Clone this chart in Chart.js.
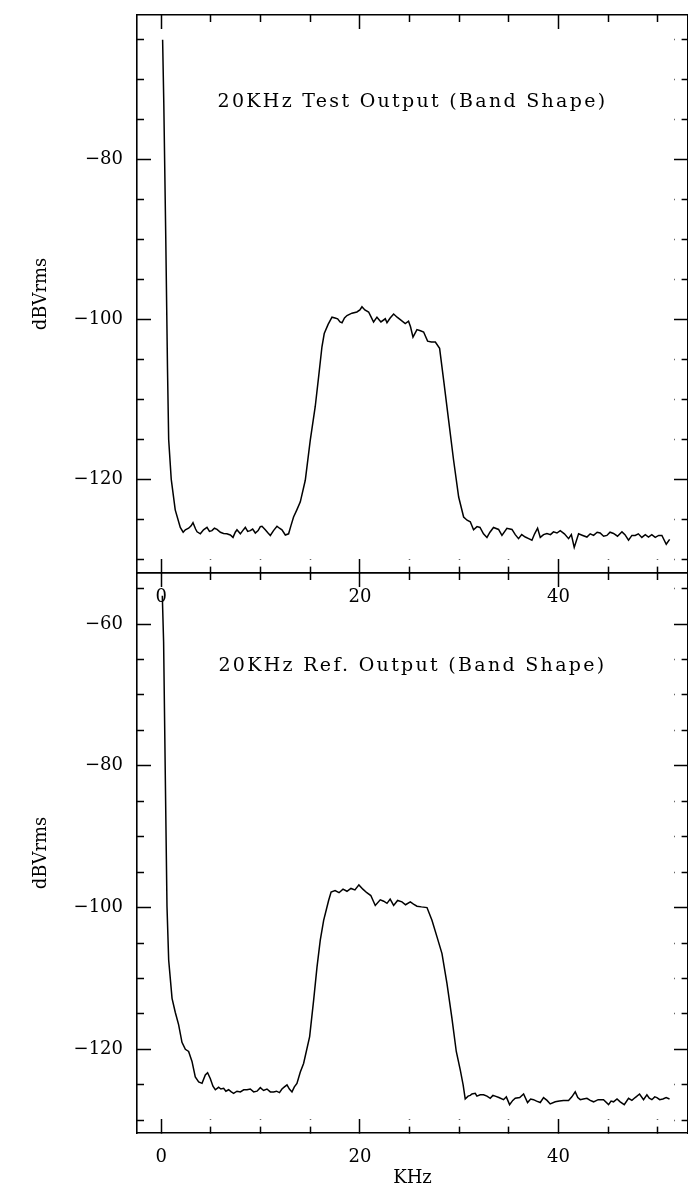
<!DOCTYPE html>
<html lang="en">
<head>
    <meta charset="UTF-8">
    <title>20KHz Band Shape</title>
    <script src="https://cdn.jsdelivr.net/npm/chart.js@4.4.0/dist/chart.umd.min.js"></script>
    <style>
        body { margin: 0; background: #fff; overflow: hidden; width: 688px; height: 1189px; position: relative; }
        canvas { position: absolute; left: 0; }
        #testChart { top: 0; }
        #refChart { top: 560px; }
        .title {
            position: absolute; left: 0; width: 825px; text-align: center;
            font-family: "DejaVu Serif", serif; font-size: 19px; line-height: 22px;
            letter-spacing: 2.3px; white-space: nowrap; color: #000;
        }
    </style>
</head>
<body>
    <canvas id="testChart" width="700" height="620"></canvas>
    <canvas id="refChart" width="700" height="629"></canvas>
    <div class="title" style="top:89px">20KHz Test Output (Band Shape)</div>
    <div class="title" style="top:653px">20KHz Ref. Output (Band Shape)</div>

    <script>
        // values (kHz, dBVrms)
        const testFreq = [0.13, 0.25, 0.45, 0.62, 0.74, 1.0, 1.4, 1.91, 2.2, 2.42, 2.75, 3.0, 3.19, 3.45, 3.6, 3.93, 4.25, 4.6, 4.85, 5.1, 5.35, 5.61, 5.95, 6.27, 6.6, 6.95, 7.22, 7.45, 7.62, 7.96, 8.2, 8.46, 8.7, 8.96, 9.2, 9.47, 9.75, 9.97, 10.14, 10.47, 10.75, 10.98, 11.3, 11.65, 11.9, 12.15, 12.49, 12.82, 13.05, 13.32, 13.65, 14.0, 14.5, 15.0, 15.5, 15.84, 16.18, 16.41, 16.8, 17.19, 17.5, 17.76, 18.0, 18.2, 18.45, 18.7, 19.2, 19.7, 20.0, 20.21, 20.5, 20.88, 21.1, 21.38, 21.72, 22.12, 22.56, 22.73, 23.05, 23.4, 23.75, 24.07, 24.57, 24.9, 25.1, 25.35, 25.75, 26.1, 26.42, 26.82, 27.2, 27.6, 28.03, 28.44, 28.94, 29.44, 29.95, 30.45, 30.8, 31.12, 31.45, 31.8, 32.1, 32.45, 32.8, 33.1, 33.46, 33.97, 34.31, 34.81, 35.32, 35.65, 35.98, 36.3, 36.66, 37.0, 37.33, 37.6, 37.9, 38.17, 38.5, 38.84, 39.2, 39.5, 39.85, 40.18, 40.6, 41.02, 41.3, 41.59, 42.03, 42.45, 42.87, 43.2, 43.54, 43.9, 44.2, 44.55, 44.88, 45.2, 45.55, 45.95, 46.4, 46.7, 47.06, 47.4, 47.73, 48.05, 48.4, 48.75, 49.07, 49.4, 49.75, 50.1, 50.42, 50.86, 51.2];
        const testLevel = [-65, -73, -90, -106, -115, -120, -123.8, -126, -126.6, -126.3, -126.1, -125.8, -125.4, -126.2, -126.55, -126.8, -126.3, -126, -126.5, -126.4, -126.1, -126.25, -126.6, -126.75, -126.8, -126.95, -127.25, -126.6, -126.3, -126.8, -126.4, -126, -126.5, -126.4, -126.2, -126.7, -126.4, -125.9, -125.85, -126.3, -126.7, -127, -126.4, -125.85, -126.1, -126.3, -126.95, -126.8, -125.8, -124.7, -123.8, -122.8, -120.1, -115.1, -110.9, -107.2, -103.4, -101.75, -100.6, -99.7, -99.8, -99.9, -100.3, -100.4, -99.8, -99.5, -99.2, -99.05, -98.8, -98.4, -98.8, -99.05, -99.6, -100.3, -99.7, -100.3, -99.9, -100.4, -99.8, -99.3, -99.7, -100, -100.5, -100.2, -100.9, -102.2, -101.25, -101.4, -101.55, -102.7, -102.8, -102.8, -103.6, -107.6, -112.6, -117.6, -122.2, -124.7, -125.1, -125.3, -126.3, -125.9, -126, -126.8, -127.25, -126.6, -126, -126.25, -127, -126.1, -126.25, -126.9, -127.4, -126.9, -127.2, -127.4, -127.6, -126.8, -126.1, -127.25, -126.9, -126.75, -126.9, -126.55, -126.7, -126.4, -126.8, -127.4, -126.9, -128.5, -126.8, -127, -127.2, -126.8, -127, -126.6, -126.7, -127.1, -127, -126.6, -126.75, -127.1, -126.55, -126.9, -127.6, -127, -127, -126.8, -127.25, -126.9, -127.2, -126.9, -127.25, -127, -127, -128.1, -127.5];

        const refFreq = [0.1, 0.23, 0.4, 0.57, 0.74, 1.08, 1.41, 1.74, 2.08, 2.42, 2.75, 3.09, 3.42, 3.76, 4.1, 4.43, 4.66, 4.93, 5.2, 5.44, 5.77, 6.0, 6.28, 6.5, 6.78, 7.05, 7.28, 7.62, 7.96, 8.3, 8.63, 8.96, 9.3, 9.64, 9.97, 10.3, 10.64, 10.98, 11.31, 11.6, 11.9, 12.15, 12.4, 12.66, 12.9, 13.16, 13.4, 13.66, 14.0, 14.33, 14.94, 15.34, 15.68, 16.01, 16.35, 16.85, 17.1, 17.5, 17.9, 18.3, 18.7, 19.1, 19.5, 19.9, 20.3, 20.7, 21.1, 21.55, 22.05, 22.4, 22.73, 23.05, 23.4, 23.8, 24.24, 24.6, 25.08, 25.4, 25.75, 26.2, 26.76, 27.26, 27.76, 28.27, 28.77, 29.27, 29.71, 30.11, 30.4, 30.61, 30.9, 31.12, 31.29, 31.62, 31.79, 32.12, 32.46, 32.8, 33.13, 33.4, 33.63, 34.0, 34.47, 34.75, 35.08, 35.4, 35.65, 36.1, 36.49, 36.89, 37.2, 37.49, 37.8, 38.17, 38.5, 38.85, 39.17, 39.68, 40.1, 40.51, 41.02, 41.35, 41.69, 41.95, 42.2, 42.5, 42.87, 43.2, 43.54, 44.0, 44.54, 45.05, 45.3, 45.55, 45.9, 46.22, 46.63, 47.06, 47.4, 47.73, 48.17, 48.57, 48.91, 49.15, 49.41, 49.7, 49.92, 50.2, 50.52, 50.85, 51.19];
        const refLevel = [-56, -62.5, -81.4, -99.8, -107.4, -112.8, -114.8, -116.5, -119, -120, -120.3, -121.7, -123.9, -124.6, -124.8, -123.6, -123.3, -124.1, -125.2, -125.7, -125.35, -125.6, -125.5, -125.9, -125.7, -126, -126.2, -125.9, -126, -125.7, -125.7, -125.6, -126, -125.9, -125.4, -125.8, -125.6, -126, -126, -125.9, -126.1, -125.6, -125.3, -125, -125.6, -126, -125.3, -124.8, -123.2, -122, -118.2, -113.1, -108.4, -104.6, -101.8, -99, -97.8, -97.6, -97.9, -97.4, -97.7, -97.3, -97.5, -96.8, -97.4, -97.9, -98.3, -99.7, -98.9, -99.1, -99.4, -98.8, -99.7, -99, -99.2, -99.6, -99.2, -99.5, -99.8, -99.9, -100, -101.8, -104.1, -106.5, -110.7, -115.6, -120.3, -122.9, -125, -127, -126.6, -126.5, -126.3, -126.2, -126.6, -126.4, -126.4, -126.6, -126.9, -126.5, -126.6, -126.8, -127.1, -126.7, -127.8, -127.2, -126.9, -126.8, -126.3, -127.5, -127, -127.1, -127.3, -127.5, -126.8, -127.2, -127.7, -127.4, -127.3, -127.2, -127.2, -126.7, -126, -126.8, -127.1, -127, -126.9, -127.2, -127.4, -127.1, -127.1, -127.8, -127.3, -127.4, -127, -127.4, -127.8, -126.9, -127.2, -126.8, -126.3, -127.1, -126.4, -126.9, -127.1, -126.7, -126.8, -127.1, -127, -126.8, -127];

        const freqLabels = [0, 20, 40];
        const testLevelLabels = [-80, -100, -120];
        const refLevelLabels = [-60, -80, -100, -120];

        const serif = '"DejaVu Serif", serif';
        const MAJOR = 14, MINOR = 7;

        function minus(v) {
            return v < 0 ? '\u2212' + Math.abs(v) : String(v);
        }

        // ticks point into the plot (negative length); minor ones are the long
        // tick dashed down to its outer half
        function tickGrid(startsAtBorder) {
            return {
                drawOnChartArea: false,
                drawTicks: true,
                tickLength: -MAJOR,
                tickColor: '#000',
                tickWidth: 1.5,
                tickBorderDash: ctx => (ctx.tick && ctx.tick.value % 20 === 0) ? [] : [MINOR, MAJOR - MINOR],
                tickBorderDashOffset: () => startsAtBorder ? 0 : MINOR
            };
        }

        const border = { display: true, color: '#000', width: 1.6 };

        // fixed box sizes so the plot area lands where the original one is
        function fixSize(prop, size) {
            return s => {
                s[prop] = size;
                s.paddingTop = 0; s.paddingBottom = 0;
                s.paddingLeft = 0; s.paddingRight = 0;
            };
        }

        function makePanel(id, freq, level, yMin, yMax, yLabels, topH, bottomH, withXTitle) {
            const points = freq.map((f, i) => ({ x: f, y: level[i] }));
            const xTicks = { stepSize: 5, includeBounds: false, autoSkip: false, maxRotation: 0 };
            const yTicks = { stepSize: 5, includeBounds: false, autoSkip: false };
            return new Chart(document.getElementById(id), {
                type: 'line',
                data: {
                    datasets: [{
                        data: points,
                        borderColor: '#000',
                        borderWidth: 1.5,
                        pointRadius: 0,
                        tension: 0,
                        fill: false
                    }]
                },
                options: {
                    responsive: false,
                    animation: false,
                    layout: { padding: 0 },
                    plugins: { legend: { display: false }, tooltip: { enabled: false } },
                    scales: {
                        x: {
                            type: 'linear', axis: 'x', position: 'bottom', min: -2.45, max: 53.05,
                            border: border, grid: tickGrid(true),
                            ticks: Object.assign({}, xTicks, {
                                color: '#000', padding: 27.5, font: { family: serif, size: 18 },
                                callback: v => freqLabels.includes(v) ? String(v) : ''
                            }),
                            title: {
                                display: withXTitle, text: 'KHz', color: '#000',
                                font: { family: serif, size: 18 }, padding: { top: 0, bottom: 0 }
                            },
                            afterFit: fixSize('height', bottomH)
                        },
                        x2: {
                            type: 'linear', axis: 'x', position: 'top', min: -2.45, max: 53.05,
                            border: border, grid: tickGrid(false),
                            ticks: Object.assign({}, xTicks, { display: false }),
                            afterFit: fixSize('height', topH)
                        },
                        y: {
                            type: 'linear', axis: 'y', position: 'left', min: yMin, max: yMax,
                            border: border, grid: tickGrid(false),
                            ticks: Object.assign({}, yTicks, {
                                color: '#000', padding: 28, font: { family: serif, size: 18 },
                                callback: v => yLabels.includes(v) ? minus(v) : ''
                            }),
                            title: {
                                display: true, text: 'dBVrms', color: '#000',
                                font: { family: serif, size: 18 }, padding: { top: 31, bottom: 0 }
                            },
                            afterFit: fixSize('width', 137)
                        },
                        y2: {
                            type: 'linear', axis: 'y', position: 'right', min: yMin, max: yMax,
                            border: border, grid: tickGrid(true),
                            ticks: Object.assign({}, yTicks, { display: false }),
                            afterFit: fixSize('width', 12)
                        }
                    }
                }
            });
        }

        makePanel('testChart', testFreq, testLevel, -131.7, -61.9, testLevelLabels, 15, 47, false);
        makePanel('refChart', refFreq, refLevel, -131.8, -52.8, refLevelLabels, 13, 56, true);
    </script>
</body>
</html>
